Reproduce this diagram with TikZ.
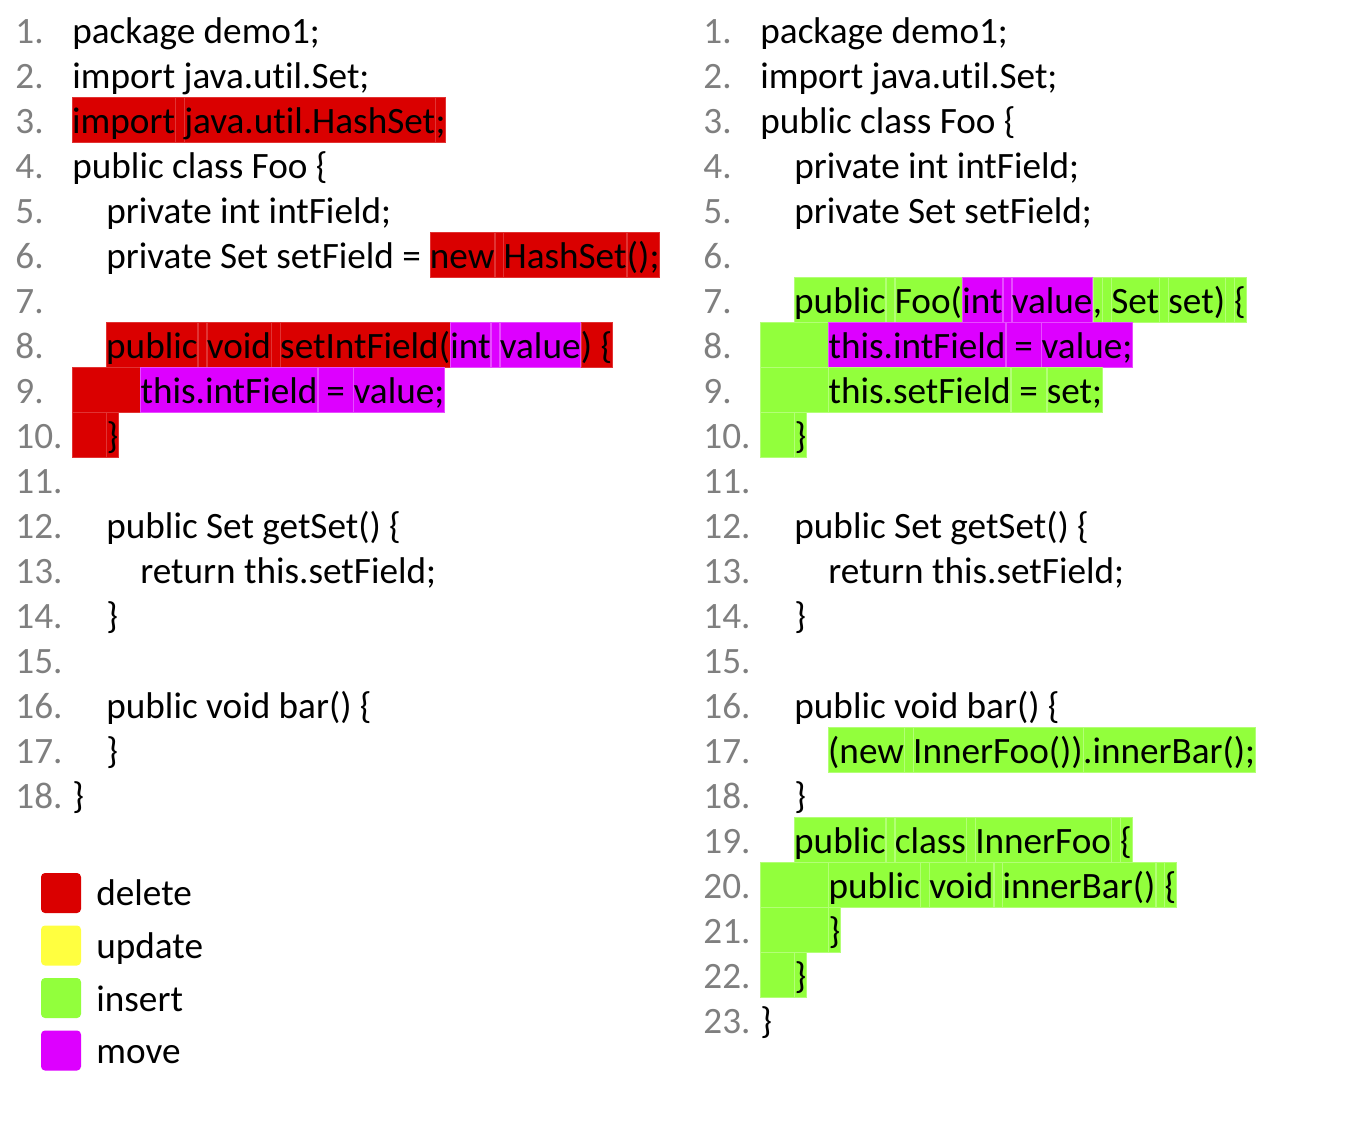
\documentclass[tikz,border=0pt]{standalone}
\usepackage{fontspec}
\setmainfont{Carlito}[Ligatures=NoCommon]
\definecolor{delred}{RGB}{218,0,0}
\definecolor{updyellow}{RGB}{255,255,64}
\definecolor{insgreen}{RGB}{146,255,60}
\definecolor{movpurple}{RGB}{221,0,255}
\definecolor{numgray}{RGB}{127,127,127}
\newcommand\codesp{\ \null}
\tikzset{
  code/.style={anchor=base west, inner sep=0pt, text height=18pt, text depth=4.5pt,
    font=\fontsize{18.6}{22}\selectfont},
  lnum/.style={code, text=numgray},
  del/.style={code, fill=delred, draw=delred!80!white, line width=0.2pt},
  ins/.style={code, fill=insgreen, draw=insgreen!70!white, line width=0.2pt},
  mov/.style={code, fill=movpurple, draw=movpurple!70!white, line width=0.2pt},
  ind1/.style={minimum width=17pt},
  ind2/.style={minimum width=34pt},
  keybox/.style={minimum size=20pt, inner sep=0pt, rounded corners=2pt}
}
\begin{document}
\begin{tikzpicture}[x=0.5pt,y=-0.5pt]
  \useasboundingbox (0,0) rectangle (1358,1125);
  % line numbers, old version
  \draw
    (15,43) node[lnum] (nL1){1.}
    (15,88) node[lnum] (nL2){2.}
    (15,133) node[lnum] (nL3){3.}
    (15,178) node[lnum] (nL4){4.}
    (15,223) node[lnum] (nL5){5.}
    (15,268) node[lnum] (nL6){6.}
    (15,313) node[lnum] (nL7){7.}
    (15,358) node[lnum] (nL8){8.}
    (15,403) node[lnum] (nL9){9.}
    (15,448) node[lnum] (nL10){10.}
    (15,493) node[lnum] (nL11){11.}
    (15,538) node[lnum] (nL12){12.}
    (15,583) node[lnum] (nL13){13.}
    (15,628) node[lnum] (nL14){14.}
    (15,673) node[lnum] (nL15){15.}
    (15,718) node[lnum] (nL16){16.}
    (15,763) node[lnum] (nL17){17.}
    (15,808) node[lnum] (nL18){18.};
  % line numbers, new version
  \draw
    (703,43) node[lnum] (nR1){1.}
    (703,88) node[lnum] (nR2){2.}
    (703,133) node[lnum] (nR3){3.}
    (703,178) node[lnum] (nR4){4.}
    (703,223) node[lnum] (nR5){5.}
    (703,268) node[lnum] (nR6){6.}
    (703,313) node[lnum] (nR7){7.}
    (703,358) node[lnum] (nR8){8.}
    (703,403) node[lnum] (nR9){9.}
    (703,448) node[lnum] (nR10){10.}
    (703,493) node[lnum] (nR11){11.}
    (703,538) node[lnum] (nR12){12.}
    (703,583) node[lnum] (nR13){13.}
    (703,628) node[lnum] (nR14){14.}
    (703,673) node[lnum] (nR15){15.}
    (703,718) node[lnum] (nR16){16.}
    (703,763) node[lnum] (nR17){17.}
    (703,808) node[lnum] (nR18){18.}
    (703,853) node[lnum] (nR19){19.}
    (703,898) node[lnum] (nR20){20.}
    (703,943) node[lnum] (nR21){21.}
    (703,988) node[lnum] (nR22){22.}
    (703,1033) node[lnum] (nR23){23.};

  % old version
  \node[code] (L1) at (72,43) {package demo1;};
  \node[code] (L2) at (72,88) {import java.util.Set;};
  \node[del] (L3a) at (72,133) {import};
  \node[del] (L3b) at (L3a.base east) {\codesp};
  \node[del] (L3c) at (L3b.base east) {java.util.HashSet};
  \node[del] (L3d) at (L3c.base east) {;};
  \node[code] (L4) at (72,178) {public class Foo \{};
  \node[code] (L5) at (106,223) {private int intField;};
  \node[code] (L6a) at (106,268) {private Set setField =\codesp};
  \node[del] (L6b) at (L6a.base east) {new};
  \node[del] (L6c) at (L6b.base east) {\codesp};
  \node[del] (L6d) at (L6c.base east) {HashSet};
  \node[del] (L6e) at (L6d.base east) {();};
  \node[del] (L8a) at (106,358) {public};
  \node[del] (L8b) at (L8a.base east) {\codesp};
  \node[del] (L8c) at (L8b.base east) {void};
  \node[del] (L8d) at (L8c.base east) {\codesp};
  \node[del] (L8e) at (L8d.base east) {setIntField(};
  \node[mov] (L8f) at (L8e.base east) {int};
  \node[mov] (L8g) at (L8f.base east) {\codesp};
  \node[mov] (L8h) at (L8g.base east) {value};
  \node[del] (L8i) at (L8h.base east) {) \{};
  \node[del, ind2] (L9a) at (72,403) {};
  \node[mov] (L9b) at (L9a.base east) {this.intField};
  \node[mov] (L9c) at (L9b.base east) {\ =\codesp};
  \node[mov] (L9d) at (L9c.base east) {value;};
  \node[del, ind1] (L10a) at (72,448) {};
  \node[del] (L10b) at (L10a.base east) {\}};
  \node[code] (L12) at (106,538) {public Set getSet() \{};
  \node[code] (L13) at (140,583) {return this.setField;};
  \node[code] (L14) at (106,628) {\}};
  \node[code] (L16) at (106,718) {public void bar() \{};
  \node[code] (L17) at (106,763) {\}};
  \node[code] (L18) at (72,808) {\}};

  % new version
  \node[code] (R1) at (760,43) {package demo1;};
  \node[code] (R2) at (760,88) {import java.util.Set;};
  \node[code] (R3) at (760,133) {public class Foo \{};
  \node[code] (R4) at (794,178) {private int intField;};
  \node[code] (R5) at (794,223) {private Set setField;};
  \node[ins] (R7a) at (794,313) {public};
  \node[ins] (R7b) at (R7a.base east) {\codesp};
  \node[ins] (R7c) at (R7b.base east) {Foo(};
  \node[mov] (R7d) at (R7c.base east) {int};
  \node[mov] (R7e) at (R7d.base east) {\codesp};
  \node[mov] (R7f) at (R7e.base east) {value};
  \node[ins] (R7g) at (R7f.base east) {,};
  \node[ins] (R7h) at (R7g.base east) {\codesp};
  \node[ins] (R7i) at (R7h.base east) {Set};
  \node[ins] (R7j) at (R7i.base east) {\codesp};
  \node[ins] (R7k) at (R7j.base east) {set)};
  \node[ins] (R7l) at (R7k.base east) {\codesp};
  \node[ins] (R7m) at (R7l.base east) {\{};
  \node[ins, ind2] (R8a) at (760,358) {};
  \node[mov] (R8b) at (R8a.base east) {this.intField};
  \node[mov] (R8c) at (R8b.base east) {\ =\codesp};
  \node[mov] (R8d) at (R8c.base east) {value;};
  \node[ins, ind2] (R9a) at (760,403) {};
  \node[ins] (R9b) at (R9a.base east) {this.setField};
  \node[ins] (R9c) at (R9b.base east) {\ =\codesp};
  \node[ins] (R9d) at (R9c.base east) {set;};
  \node[ins, ind1] (R10a) at (760,448) {};
  \node[ins] (R10b) at (R10a.base east) {\}};
  \node[code] (R12) at (794,538) {public Set getSet() \{};
  \node[code] (R13) at (828,583) {return this.setField;};
  \node[code] (R14) at (794,628) {\}};
  \node[code] (R16) at (794,718) {public void bar() \{};
  \node[ins] (R17a) at (828,763) {(new};
  \node[ins] (R17b) at (R17a.base east) {\codesp};
  \node[ins] (R17c) at (R17b.base east) {InnerFoo())};
  \node[ins] (R17d) at (R17c.base east) {.innerBar();};
  \node[code] (R18) at (794,808) {\}};
  \node[ins] (R19a) at (794,853) {public};
  \node[ins] (R19b) at (R19a.base east) {\codesp};
  \node[ins] (R19c) at (R19b.base east) {class};
  \node[ins] (R19d) at (R19c.base east) {\codesp};
  \node[ins] (R19e) at (R19d.base east) {InnerFoo};
  \node[ins] (R19f) at (R19e.base east) {\codesp};
  \node[ins] (R19g) at (R19f.base east) {\{};
  \node[ins, ind2] (R20a) at (760,898) {};
  \node[ins] (R20b) at (R20a.base east) {public};
  \node[ins] (R20c) at (R20b.base east) {\codesp};
  \node[ins] (R20d) at (R20c.base east) {void};
  \node[ins] (R20e) at (R20d.base east) {\codesp};
  \node[ins] (R20f) at (R20e.base east) {innerBar()};
  \node[ins] (R20g) at (R20f.base east) {\codesp};
  \node[ins] (R20h) at (R20g.base east) {\{};
  \node[ins, ind2] (R21a) at (760,943) {};
  \node[ins] (R21b) at (R21a.base east) {\}};
  \node[ins, ind1] (R22a) at (760,988) {};
  \node[ins] (R22b) at (R22a.base east) {\}};
  \node[code] (R23) at (760,1033) {\}};

  % legend
  \node[keybox, fill=delred] (kdel) at (61,893) {};
  \node[keybox, fill=updyellow] (kupd) at (61,945.5) {};
  \node[keybox, fill=insgreen] (kins) at (61,998) {};
  \node[keybox, fill=movpurple] (kmov) at (61,1050.5) {};
  \node[code] (tdel) at (96,905) {delete};
  \node[code] (tupd) at (96,958) {update};
  \node[code] (tins) at (96,1011) {insert};
  \node[code] (tmov) at (96,1063) {move};
\end{tikzpicture}
\end{document}
